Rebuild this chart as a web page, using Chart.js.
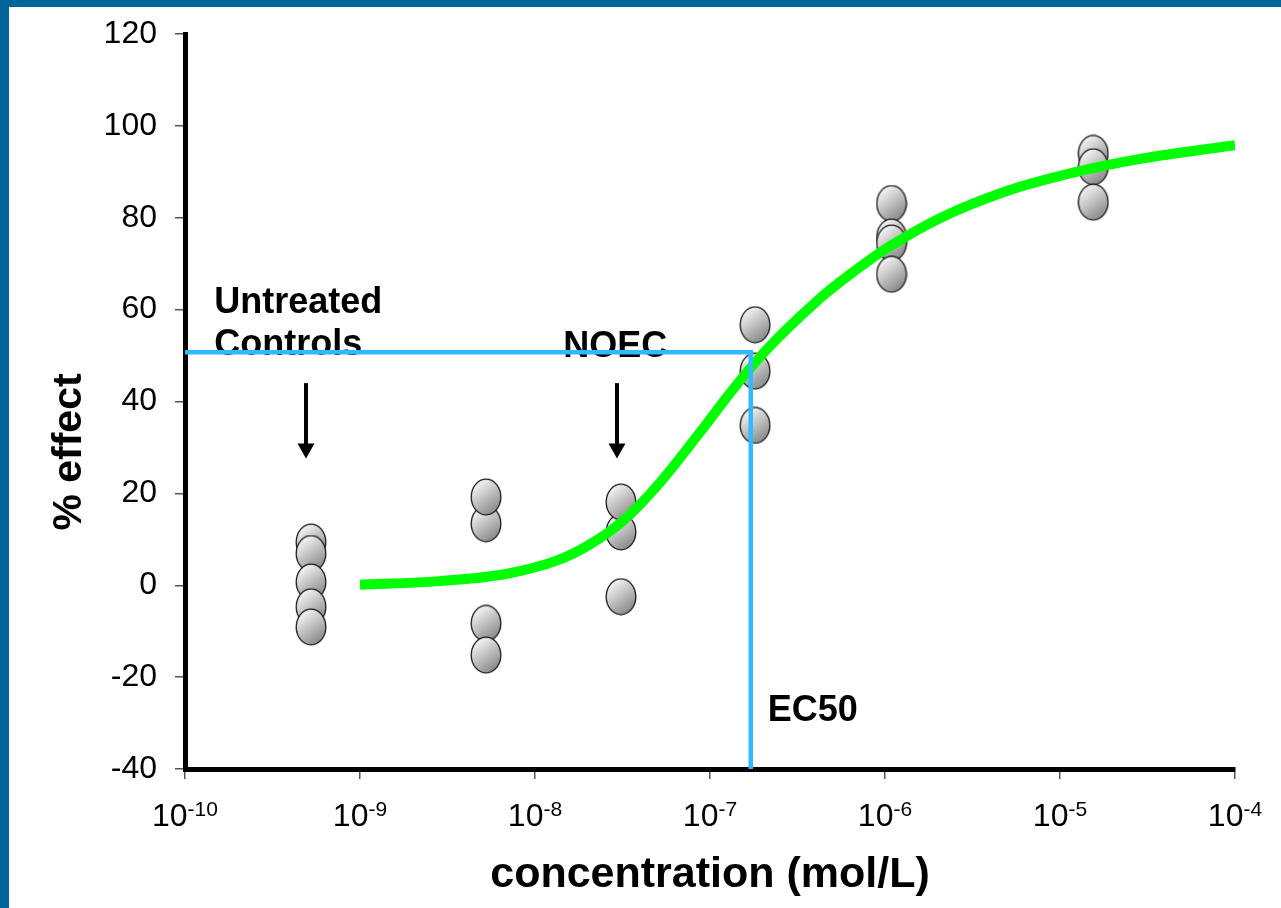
<!DOCTYPE html>
<html lang="en">
<head>
<meta charset="UTF-8">
<title>% effect vs concentration</title>
<script src="https://cdn.jsdelivr.net/npm/chart.js@4/dist/chart.umd.min.js"></script>
<style>
    html, body { margin: 0; padding: 0; background: #fff; }
    #marco {
        width: 1272px;
        height: 901px;
        border-top: 7px solid #006699;
        border-left: 9px solid #006699;
        background: #fff;
    }
    canvas { display: block; }
</style>
</head>
<body>
<div id="marco">
    <canvas id="doseChart" width="1272" height="901"></canvas>
</div>
<script>
// Ejes
const xTicks = [1e-10, 1e-9, 1e-8, 1e-7, 1e-6, 1e-5, 1e-4];
const xTickExps = ['-10', '-9', '-8', '-7', '-6', '-5', '-4'];
const yTicks = [-40, -20, 0, 20, 40, 60, 80, 100, 120];

// Réplicas medidas: una concentración por grupo, varios % efecto
const replicaConc = [5.25e-10, 5.25e-9, 3.1e-8, 1.81e-7, 1.09e-6, 1.55e-5];
const replicaValues = [
    [9.4, 6.9, 0.7, -4.7, -9.1],
    [13.4, 19.2, -8.3, -15.2],
    [11.6, 18.1, -2.5],
    [56.7, 46.6, 34.8],
    [83.1, 75.8, 74.5, 67.7],
    [94.0, 91.1, 83.4]
];

// Curva dosis-respuesta
const curveConc = [1e-9, 2.87e-9, 6.92e-9, 1.34e-8, 2.06e-8, 3.18e-8, 4.98e-8, 8.77e-8,
    1.35e-7, 2.12e-7, 4.09e-7, 5.53e-7, 8.53e-7, 1.10e-6, 2.06e-6, 4.98e-6, 1.19e-5, 2.87e-5, 1e-4];
const curveValues = [0.1, 0.9, 2.5, 5.4, 8.9, 14.0, 21.6, 33.3,
    42.6, 51.4, 61.9, 66.0, 71.3, 74.1, 79.9, 85.8, 89.8, 92.8, 95.8];

// EC50
const ec50Conc = 1.71e-7;
const ec50Level = 50.7;

// Anotaciones
const labelTexts = ['Untreated', 'Controls', 'NOEC', 'EC50'];
const labelConc = [1.47e-10, 1.47e-10, 1.45e-8, 2.14e-7];
const labelValues = [59.2, 50.1, 49.6, -29.6];
const arrowConc = [4.91e-10, 2.94e-8];
const arrowFrom = 44.0;
const arrowTo = 27.6;

const FUENTE = '"Liberation Sans", Arial, Helvetica, sans-serif';

// Punto elíptico con degradado gris
function crearPunto() {
    const c = document.createElement('canvas');
    c.width = 32;
    c.height = 38;
    const g = c.getContext('2d');
    const grad = g.createLinearGradient(4, 3, 28, 35);
    grad.addColorStop(0, '#ffffff');
    grad.addColorStop(1, '#7f7f7f');
    g.beginPath();
    g.ellipse(16, 19, 14.8, 17.8, 0, 0, Math.PI * 2);
    g.fillStyle = grad;
    g.fill();
    g.lineWidth = 1.3;
    g.strokeStyle = '#1a1a1a';
    g.stroke();
    return c;
}

// Construir datos de réplicas
const replicaPoints = [];
replicaConc.forEach((c, i) => {
    replicaValues[i].forEach(v => replicaPoints.push({ x: c, y: v }));
});
const curvePoints = curveConc.map((c, i) => ({ x: c, y: curveValues[i] }));
const ec50Points = [
    { x: xTicks[0], y: ec50Level },
    { x: ec50Conc, y: ec50Level },
    { x: ec50Conc, y: yTicks[0] }
];

// Plugin: textos, flechas, etiquetas 10^n y título vertical
const anotacionesPlugin = {
    id: 'anotaciones',
    beforeDatasetsDraw(chart) {
        const { ctx, scales: { x, y } } = chart;
        ctx.save();
        ctx.fillStyle = '#000';
        ctx.font = 'bold 36px ' + FUENTE;
        ctx.textAlign = 'left';
        ctx.textBaseline = 'alphabetic';
        labelTexts.forEach((t, i) => {
            ctx.fillText(t, x.getPixelForValue(labelConc[i]), y.getPixelForValue(labelValues[i]));
        });

        // Flechas
        ctx.strokeStyle = '#000';
        ctx.lineWidth = 4;
        arrowConc.forEach(c => {
            const px = Math.round(x.getPixelForValue(c));
            const y0 = y.getPixelForValue(arrowFrom);
            const y1 = y.getPixelForValue(arrowTo);
            ctx.beginPath();
            ctx.moveTo(px, y0);
            ctx.lineTo(px, y1 - 12);
            ctx.stroke();
            ctx.beginPath();
            ctx.moveTo(px - 8.5, y1 - 15);
            ctx.lineTo(px + 8.5, y1 - 15);
            ctx.lineTo(px, y1);
            ctx.closePath();
            ctx.fill();
        });
        ctx.restore();
    },
    afterDraw(chart) {
        const { ctx, chartArea, scales: { x } } = chart;
        ctx.save();
        ctx.fillStyle = '#000';
        ctx.textAlign = 'left';
        ctx.textBaseline = 'alphabetic';

        // Etiquetas del eje x con exponente
        xTicks.forEach((v, i) => {
            const px = x.getPixelForValue(v);
            ctx.font = '32px ' + FUENTE;
            const wBase = ctx.measureText('10').width;
            ctx.font = '21px ' + FUENTE;
            const wExp = ctx.measureText(xTickExps[i]).width;
            const x0 = px - (wBase + wExp) / 2;
            ctx.font = '32px ' + FUENTE;
            ctx.fillText('10', x0, chartArea.bottom + 57);
            ctx.font = '21px ' + FUENTE;
            ctx.fillText(xTickExps[i], x0 + wBase, chartArea.bottom + 47);
        });

        // Título del eje y
        ctx.translate(61, 445);
        ctx.rotate(-Math.PI / 2);
        ctx.textAlign = 'center';
        ctx.textBaseline = 'middle';
        ctx.font = 'bold 41px ' + FUENTE;
        ctx.fillText('% effect', 0, 0);
        ctx.restore();
    }
};

// Inicializar gráfico
function inicializarGrafico() {
    const ctx = document.getElementById('doseChart').getContext('2d');
    const punto = crearPunto();

    new Chart(ctx, {
        type: 'scatter',
        data: {
            datasets: [
                {
                    label: 'EC50',
                    data: ec50Points,
                    showLine: true,
                    borderColor: '#33b8ff',
                    borderWidth: 4.5,
                    pointRadius: 0,
                    tension: 0,
                    order: 0
                },
                {
                    label: 'Fit',
                    data: curvePoints,
                    showLine: true,
                    borderColor: '#00ff00',
                    borderWidth: 10,
                    pointRadius: 0,
                    cubicInterpolationMode: 'monotone',
                    order: 1
                },
                {
                    label: 'Replicates',
                    data: replicaPoints,
                    pointStyle: punto,
                    pointRadius: 15,
                    order: 2
                }
            ]
        },
        options: {
            responsive: false,
            animation: false,
            devicePixelRatio: 1,
            layout: {
                padding: { top: 27, right: 46, left: 0, bottom: 0 }
            },
            plugins: {
                legend: { display: false },
                tooltip: { enabled: false }
            },
            scales: {
                x: {
                    type: 'logarithmic',
                    min: xTicks[0],
                    max: xTicks[xTicks.length - 1],
                    afterBuildTicks: s => { s.ticks = xTicks.map(v => ({ value: v })); },
                    afterFit: s => { s.height = 139; },
                    ticks: { display: false },
                    grid: {
                        drawOnChartArea: false,
                        drawTicks: true,
                        tickLength: 10,
                        color: '#555',
                        lineWidth: 1.5
                    },
                    border: { color: '#000', width: 5 },
                    title: {
                        display: true,
                        text: 'concentration (mol/L)',
                        color: '#000',
                        font: { family: FUENTE, size: 43, weight: 'bold' },
                        padding: { top: 0, bottom: 7 }
                    }
                },
                y: {
                    min: yTicks[0],
                    max: yTicks[yTicks.length - 1],
                    afterBuildTicks: s => { s.ticks = yTicks.map(v => ({ value: v })); },
                    afterFit: s => {
                        s.width = 176;
                        s.paddingTop = 0;
                        s.paddingBottom = 0;
                    },
                    ticks: {
                        color: '#000',
                        padding: 18,
                        font: { family: FUENTE, size: 32 }
                    },
                    grid: {
                        drawOnChartArea: false,
                        drawTicks: true,
                        tickLength: 10,
                        color: '#555',
                        lineWidth: 1.5
                    },
                    border: { color: '#000', width: 5 }
                }
            }
        },
        plugins: [anotacionesPlugin]
    });
}

document.addEventListener('DOMContentLoaded', inicializarGrafico);
</script>
</body>
</html>
